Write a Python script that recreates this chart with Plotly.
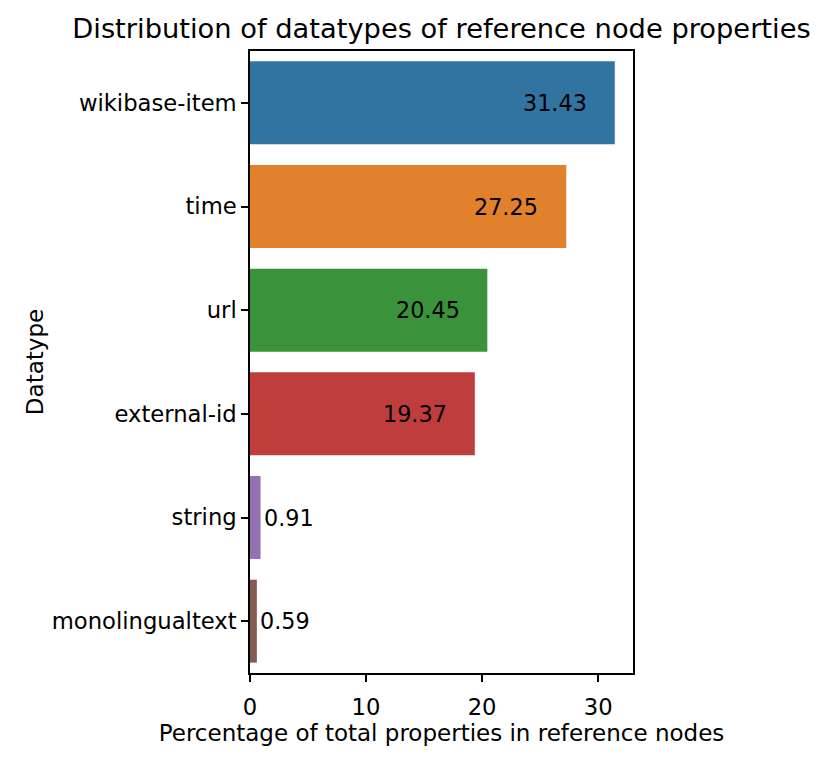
import plotly.graph_objects as go

categories = ["wikibase-item", "time", "url", "external-id", "string", "monolingualtext"]
values = [31.43, 27.25, 20.45, 19.37, 0.91, 0.59]
colors = ["#3274a1", "#e1812c", "#3a923a", "#c03d3e", "#9372b2", "#845b53"]
x_ticks = [0, 10, 20, 30]

FONT = "DejaVu Sans"

fig = go.Figure()
fig.add_trace(go.Bar(
    x=values, y=categories, orientation="h",
    marker=dict(color=colors, line=dict(width=0)),
    width=0.8, showlegend=False, hoverinfo="skip",
))

for c, v in zip(categories, values):
    xpos = v - 8 if v > 5 else v + 0.2
    fig.add_annotation(x=xpos, y=c, text=f"{v:.2f}", showarrow=False,
                       xanchor="left", yanchor="middle", borderpad=0,
                       font=dict(family=FONT, size=22.3, color="black"))

# the page body adds an ~8px offset, margins compensate for it
fig.update_layout(
    width=830, height=759,
    margin=dict(l=242, r=205, t=43, b=94),
    plot_bgcolor="white", paper_bgcolor="white",
    font=dict(family=FONT, size=22.7, color="black"),
    title=dict(text="Distribution of datatypes of reference node properties",
               x=433.5 / 830, xanchor="center", y=1 - 20 / 759, yanchor="middle",
               yref="container", font=dict(family=FONT, size=27.3, color="black")),
    bargap=0.2,
)
fig.update_xaxes(
    range=[0, 33.0], tickvals=x_ticks, ticks="outside", ticklen=7, tickwidth=1.5,
    tickcolor="black", showline=True, linecolor="black", linewidth=1.5, mirror=True,
    showgrid=False, zeroline=False, ticklabelstandoff=6,
    title=dict(text="Percentage of total properties in reference nodes",
               font=dict(family=FONT, size=23), standoff=1),
    tickfont=dict(family=FONT, size=22.7),
)
fig.update_yaxes(
    categoryorder="array", categoryarray=categories, autorange="reversed",
    ticks="outside", ticklen=7, tickwidth=1.5, tickcolor="black",
    showline=True, linecolor="black", linewidth=1.5, mirror=True,
    showgrid=False, zeroline=False,
    title=dict(text="Datatype", font=dict(family=FONT, size=23), standoff=2),
    tickfont=dict(family=FONT, size=22.7),
)

fig.write_html("out.html")
